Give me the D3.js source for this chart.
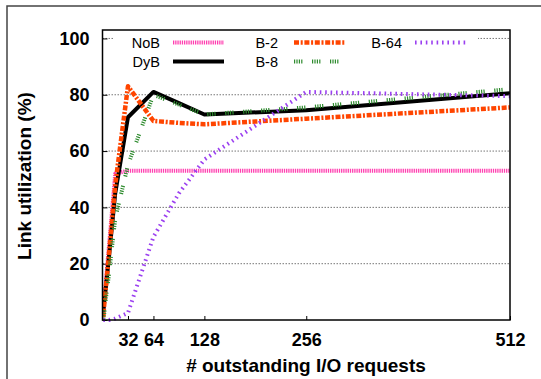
<!DOCTYPE html>
<html>
<head>
<meta charset="utf-8">
<script src="https://cdn.jsdelivr.net/npm/d3@7"></script>
<style>
  html, body { margin: 0; padding: 0; background: #fff; }
  svg { display: block; font-family: "Liberation Sans", Arial, sans-serif; }
</style>
</head>
<body>
<svg id="chart" width="541" height="379"></svg>
<script>
// ── data ──
const xVals   = [1, 2, 4, 8, 16, 32, 64, 96, 128, 256, 512];
const noB     = [2, 6, 13, 26, 52, 53, 53, 53, 53, 53, 53];
const dyB     = [3, 6, 11, 22, 45, 72, 81, 77, 73, 74.5, 80.5];
const b2      = [1, 5, 11, 23, 48, 83, 70.7, 70, 69.5, 71.5, 75.5];
const b8      = [0.5, 2, 7, 16, 36, 55, 80, 76.5, 73, 75.5, 82];
const b64     = [0, 0, 0, 0, 0.5, 2.5, 29.5, 45, 57, 81, 79.5];
const xTicks  = [32, 64, 128, 256, 512];
const yTicks  = [0, 20, 40, 60, 80, 100];
const yGrid   = [20, 40, 60, 80, 100];

const series = [
  { name: 'NoB',  values: noB, color: '#ff3fb0', width: 4,   dash: '1.3,0.9' },
  { name: 'DyB',  values: dyB, color: '#000000', width: 4,   dash: null },
  { name: 'B-2',  values: b2,  color: '#ff4500', width: 4.5, dash: '5,1.7,2,1.7' },
  { name: 'B-8',  values: b8,  color: '#2e8b2e', width: 4,   dash: '1.2,1.2,1.2,1.2,1.2,1.2,1.2,9.6' },
  { name: 'B-64', values: b64, color: '#9b40f0', width: 4,   dash: '1.6,3.8' },
];

const svg = d3.select('#chart');
const plot = { left: 102.5, right: 510, top: 30, bottom: 320 };

const x = d3.scaleLinear().domain([0, 512]).range([plot.left, plot.right]);
const y = d3.scaleLinear().domain([0, 103]).range([plot.bottom, plot.top]);

// outer frame (cropped at right/bottom)
svg.append('rect')
  .attr('x', 7).attr('y', 6).attr('width', 560).attr('height', 400)
  .attr('fill', 'none').attr('stroke', '#444').attr('stroke-width', 1.5);

// grid
svg.append('g').selectAll('line')
  .data(yGrid)
  .join('line')
  .attr('x1', plot.left).attr('x2', plot.right)
  .attr('y1', d => y(d)).attr('y2', d => y(d))
  .attr('stroke', '#777').attr('stroke-width', 1)
  .attr('stroke-dasharray', '1.5,1.5');

// y axis ticks + labels
const yAxis = d3.axisLeft(y).tickValues(yTicks).tickSize(-5).tickPadding(13);
svg.append('g')
  .attr('transform', `translate(${plot.left},0)`)
  .call(yAxis)
  .call(g => g.select('.domain').remove())
  .call(g => g.selectAll('line').attr('stroke', '#000'))
  .call(g => g.selectAll('text')
    .attr('font-size', 18).attr('font-weight', 'bold')
    .attr('font-family', '"Liberation Sans", Arial, sans-serif').attr('fill', '#000'));

// x axis ticks + labels
const xAxis = d3.axisBottom(x).tickValues(xTicks).tickSize(-4).tickPadding(13);
svg.append('g')
  .attr('transform', `translate(0,${plot.bottom})`)
  .call(xAxis)
  .call(g => g.select('.domain').remove())
  .call(g => g.selectAll('line').attr('stroke', '#000'))
  .call(g => g.selectAll('text')
    .attr('font-size', 18).attr('font-weight', 'bold')
    .attr('font-family', '"Liberation Sans", Arial, sans-serif').attr('fill', '#000'));

// legend background hides the grid
svg.append('rect')
  .attr('x', 113).attr('y', 31).attr('width', 365).attr('height', 40)
  .attr('fill', '#fff');

// lines
const line = d3.line()
  .x((d, i) => x(xVals[i]))
  .y(d => y(d));

svg.append('clipPath').attr('id', 'clip')
  .append('rect')
  .attr('x', plot.left).attr('y', plot.top - 2)
  .attr('width', plot.right - plot.left).attr('height', plot.bottom - plot.top + 4);

svg.append('g').attr('clip-path', 'url(#clip)')
  .selectAll('path')
  .data(series)
  .join('path')
  .attr('d', d => line(d.values))
  .attr('fill', 'none')
  .attr('stroke', d => d.color)
  .attr('stroke-width', d => d.width)
  .attr('stroke-dasharray', d => d.dash)
  .attr('stroke-linejoin', 'round');

// legend
const legendPos = [
  { col: 0, row: 0 }, { col: 0, row: 1 },
  { col: 1, row: 0 }, { col: 1, row: 1 },
  { col: 2, row: 0 },
];
const leg = svg.append('g');
series.forEach((s, i) => {
  const p = legendPos[i];
  const sx = 173 + p.col * 121;
  const sy = 42.5 + p.row * 19;
  leg.append('text')
    .attr('x', sx - 13 - (p.col === 1 ? 3 : 0)).attr('y', sy + 5)
    .attr('text-anchor', 'end')
    .attr('font-size', 14.5)
    .attr('fill', '#000')
    .text(s.name);
  leg.append('line')
    .attr('x1', sx).attr('x2', sx + 51)
    .attr('y1', sy).attr('y2', sy)
    .attr('stroke', s.color)
    .attr('stroke-width', s.width)
    .attr('stroke-dasharray', s.dash);
});

// plot border
svg.append('rect')
  .attr('x', plot.left).attr('y', plot.top)
  .attr('width', plot.right - plot.left).attr('height', plot.bottom - plot.top)
  .attr('fill', 'none').attr('stroke', '#000').attr('stroke-width', 1.5);

// axis titles
svg.append('text')
  .attr('x', 306).attr('y', 372)
  .attr('text-anchor', 'middle')
  .attr('font-size', 19).attr('font-weight', 'bold')
  .text('# outstanding I/O requests');

svg.append('text')
  .attr('transform', 'translate(31,176) rotate(-90)')
  .attr('text-anchor', 'middle')
  .attr('font-size', 19).attr('font-weight', 'bold')
  .text('Link utilization (%)');
</script>
</body>
</html>
